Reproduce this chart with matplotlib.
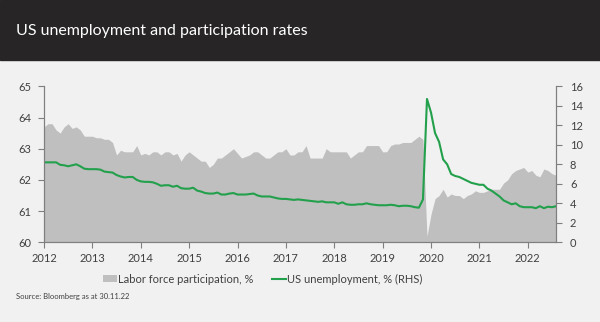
import numpy as np
import matplotlib.pyplot as plt
from matplotlib.patches import Patch
from matplotlib.lines import Line2D

plt.rcParams['font.family'] = ['Lato', 'DejaVu Sans']

years = ['2012', '2013', '2014', '2015', '2016', '2017', '2018', '2019', '2020', '2021', '2022']

# labor force participation, % (monthly, Jan 2012 ->)
lfpr = [63.7, 63.8, 63.8, 63.6, 63.5, 63.7, 63.8, 63.65, 63.7, 63.6, 63.4, 63.4,
        63.4, 63.35, 63.35, 63.3, 63.3, 63.2, 62.8, 62.95, 62.9, 62.9, 62.9, 63.1,
        62.8, 62.85, 62.8, 62.9, 62.9, 62.8, 62.9, 62.9, 62.8, 62.85, 62.6, 62.8,
        62.9, 62.8, 62.7, 62.6, 62.6, 62.4, 62.5, 62.7, 62.7, 62.8, 62.9, 63.0,
        62.85, 62.7, 62.75, 62.8, 62.9, 62.9, 62.8, 62.7, 62.7, 62.8, 62.9, 62.9,
        63.0, 62.8, 62.8, 62.9, 62.9, 63.1, 62.7, 62.7, 62.7, 62.7, 63.0, 62.9,
        62.9, 62.9, 62.9, 62.9, 62.7, 62.8, 62.9, 62.9, 63.1, 63.1, 63.1, 63.1,
        62.9, 62.9, 63.1, 63.15, 63.15, 63.2, 63.2, 63.2, 63.3, 63.4, 63.3, 60.2,
        60.9, 61.4, 61.5, 61.7, 61.45, 61.55, 61.5, 61.5, 61.4, 61.5, 61.55, 61.65,
        61.6, 61.6, 61.65, 61.7, 61.7, 61.7, 61.9, 62.0, 62.2, 62.3, 62.35, 62.4,
        62.25, 62.3, 62.15, 62.1, 62.35, 62.3, 62.2, 62.15]

# US unemployment, % (RHS)
unemp = [8.2, 8.2, 8.2, 8.2, 7.95, 7.9, 7.8, 7.9, 8.0, 7.8, 7.55, 7.5,
         7.5, 7.5, 7.45, 7.25, 7.2, 7.15, 6.9, 6.75, 6.65, 6.7, 6.7, 6.4,
         6.25, 6.2, 6.2, 6.15, 6.0, 5.8, 5.85, 5.85, 5.7, 5.8, 5.55, 5.5,
         5.5, 5.6, 5.3, 5.2, 5.05, 5.0, 5.0, 5.1, 4.9, 4.9, 5.0, 5.05,
         4.9, 4.9, 4.9, 4.95, 5.0, 4.8, 4.7, 4.7, 4.7, 4.6, 4.5, 4.45,
         4.45, 4.4, 4.35, 4.4, 4.35, 4.3, 4.25, 4.2, 4.15, 4.2, 4.1, 4.1,
         4.1, 3.95, 4.1, 3.9, 3.85, 3.85, 3.9, 3.9, 4.0, 3.9, 3.85, 3.8,
         3.8, 3.8, 3.85, 3.8, 3.7, 3.75, 3.75, 3.7, 3.6, 3.55, 4.4, 14.7,
         13.3, 11.2, 10.3, 8.5, 8.0, 7.0, 6.8, 6.7, 6.5, 6.3, 6.1, 6.0,
         5.9, 5.9, 5.5, 5.3, 5.0, 4.7, 4.3, 4.1, 3.9, 4.0, 3.7, 3.6,
         3.6, 3.6, 3.5, 3.7, 3.5, 3.65, 3.6, 3.7]

x = np.arange(len(lfpr))
bg = '#f1f1f1'
axis_col = '#7f7f7f'
text_col = '#404040'

fig = plt.figure(figsize=(6, 3.22), dpi=100, facecolor=bg)

# dark title band
fig.patches.append(plt.Rectangle((0, 1 - 60 / 322), 1, 60 / 322, transform=fig.transFigure,
                                 color='#272526', zorder=0))
fig.text(16 / 600, 1 - 31 / 322, 'US unemployment and participation rates', color='white',
         fontsize=11.5, va='center', ha='left')

ax = fig.add_axes([44 / 600, 1 - 242.3 / 322, (556 - 44) / 600, (242.3 - 86.3) / 322])
ax.set_facecolor(bg)
ax.fill_between(x, 60, lfpr, color='#bfbfbf', lw=0)
ax.set_ylim(60, 65)
ax.set_xlim(0, len(lfpr) - 1)
ax.set_yticks(range(60, 66))
ax.set_xticks(np.arange(0, 121, 12))
ax.set_xticklabels(years)

ax2 = ax.twinx()
ax2.plot(x, unemp, color='#22a04b', lw=1.5)
ax2.set_ylim(0, 16)
ax2.set_yticks(range(0, 17, 2))

for a in (ax, ax2):
    a.spines['top'].set_visible(False)
    for s in ('left', 'right', 'bottom'):
        a.spines[s].set_color(axis_col)
        a.spines[s].set_linewidth(0.8)
    a.tick_params(colors=axis_col, labelcolor=text_col, labelsize=8, length=4, width=0.8)
ax.tick_params(axis='y', pad=5)
ax2.tick_params(axis='y', pad=6)
ax.tick_params(axis='x', pad=4)

handles = [Patch(facecolor='#bfbfbf', edgecolor='none', label='Labor force participation, %'),
           Line2D([], [], color='#22a04b', lw=1.5, label='US unemployment, % (RHS)')]
fig.legend(handles=handles, loc='center', bbox_to_anchor=(263 / 600, 1 - 279 / 322), ncol=2,
           frameon=False, fontsize=8, handlelength=1.2, handleheight=0.6, handletextpad=0.15,
           columnspacing=1.7, labelcolor=text_col)

fig.text(16 / 600, 1 - 297 / 322, 'Source: Bloomberg as at 30.11.22', fontsize=5.5,
         color=text_col, va='center', ha='left')

fig.savefig('out.png', dpi=100, facecolor=bg)
